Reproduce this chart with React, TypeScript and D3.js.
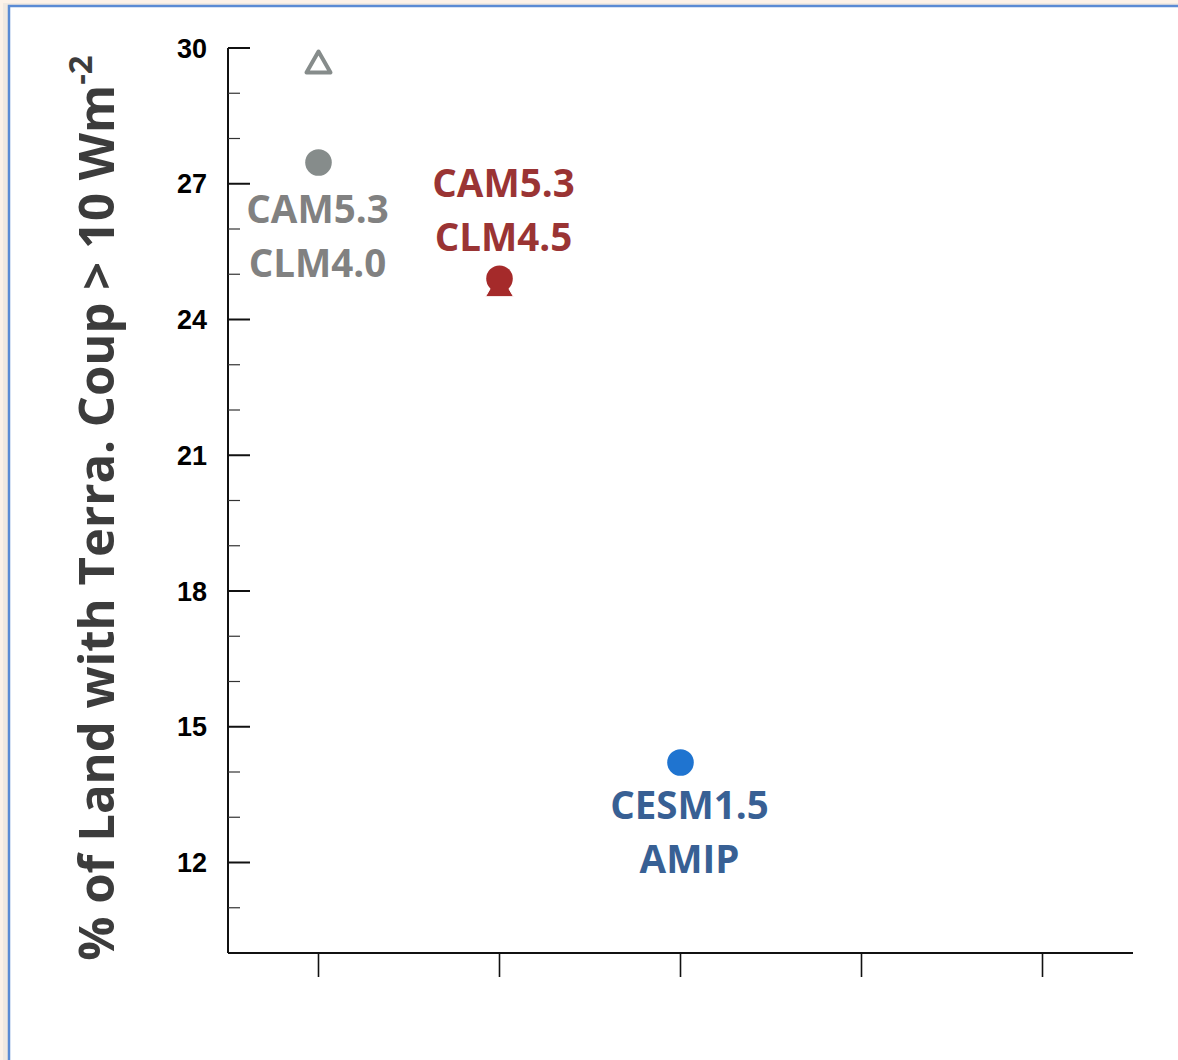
import React from 'react';
import * as d3 from 'd3';

// model runs, plotted at x = 1, 2, 3
const models = ['CAM5.3 CLM4.0', 'CAM5.3 CLM4.5', 'CESM1.5 AMIP'];
const modelX = [1, 2, 3];
const circleValues = [27.47, 24.9, 14.21];
const triangleValues = [29.69, 24.77, null];
const modelColors = ['#868c8b', '#a52a2a', '#1f74d0'];
const labelColors = ['#818181', '#9a3434', '#386094'];
const labelLines = [['CAM5.3', 'CLM4.0'], ['CAM5.3', 'CLM4.5'], ['CESM1.5', 'AMIP']];

const yMajorTicks = [12, 15, 18, 21, 24, 27, 30];
const yMinorTicks = [11, 13, 14, 16, 17, 19, 20, 22, 23, 25, 26, 28, 29];
const xTicks = [1, 2, 3, 4, 5];

const W = 1178;
const H = 1060;
const margin = { top: 48, right: 45, bottom: 107, left: 228 };

export default function App() {
  const x = d3.scaleLinear().domain([0.5, 5.5]).range([margin.left, W - margin.right]);
  const y = d3.scaleLinear().domain([10, 30]).range([H - margin.bottom, margin.top]);
  const x0 = margin.left;
  const x1 = W - margin.right;
  const yBase = H - margin.bottom;

  // label placement relative to each marker (dx, dy of first line baseline)
  const labelOffset = [
    { dx: -1, dy: 61 },
    { dx: 4, dy: -82 },
    { dx: 9, dy: 57 }
  ];
  const lineGap = 54;

  const tri = (w: number, h: number) => `M0,${-h / 2}L${w / 2},${h / 2}L${-w / 2},${h / 2}Z`;

  return (
    <svg width={W} height={H} style={{ position: 'absolute', left: 0, top: 0 }}>
      <rect x={0} y={0} width={W} height={H} fill="#fdf2e8" />
      <rect x={3} y={3} width={W} height={H} fill="#e9e3dc" opacity={0.6} />
      <rect x={9} y={6} width={W} height={H} fill="#ffffff" stroke="#5b8bd4" strokeWidth={2.5} />

      {/* y axis */}
      <line x1={x0} x2={x0} y1={y(30)} y2={yBase} stroke="#111" strokeWidth={2} />
      {yMajorTicks.map(t => (
        <g key={'M' + t}>
          <line x1={x0} x2={x0 + 22} y1={y(t)} y2={y(t)} stroke="#111" strokeWidth={2} />
          <text x={x0 - 21} y={y(t)} dy="0.36em" textAnchor="end"
            fontFamily="Liberation Sans, Arial, sans-serif" fontWeight="bold" fontSize={27} fill="#000">
            {t}
          </text>
        </g>
      ))}
      {yMinorTicks.map(t => (
        <line key={'m' + t} x1={x0} x2={x0 + 12} y1={y(t)} y2={y(t)} stroke="#333" strokeWidth={1.2} />
      ))}

      {/* x axis */}
      <line x1={x0} x2={x1} y1={yBase} y2={yBase} stroke="#111" strokeWidth={2} />
      {xTicks.map(t => (
        <line key={'x' + t} x1={x(t)} x2={x(t)} y1={yBase} y2={yBase + 24} stroke="#111" strokeWidth={1.6} />
      ))}

      {/* y title */}
      <text transform={`translate(114, ${508}) rotate(-90)`} textAnchor="middle"
        fontFamily="Open Sans, sans-serif" fontWeight="bold" fontSize={49} fill="#3c3c3c">
        % of Land with Terra. Coup &gt; 10 Wm
        <tspan fontSize={33} dy={-22}>-2</tspan>
      </text>

      {/* markers */}
      {models.map((m, i) => {
        const tv = triangleValues[i];
        return (
          <g key={m}>
            {tv !== null && i === 0 && (
              <path d={tri(24, 21)} transform={`translate(${x(modelX[i])},${y(tv)})`}
                fill="none" stroke={modelColors[i]} strokeWidth={4} strokeLinejoin="round" />
            )}
            {tv !== null && i !== 0 && (
              <path d={tri(28, 24)} transform={`translate(${x(modelX[i])},${y(tv)})`}
                fill={modelColors[i]} stroke="#ffffff" strokeWidth={1} />
            )}
            <circle cx={x(modelX[i])} cy={y(circleValues[i])} r={13.3} fill={modelColors[i]} />
          </g>
        );
      })}

      {/* labels */}
      {models.map((m, i) => (
        <text key={'l' + m} textAnchor="middle" fontFamily="Open Sans, sans-serif" fontWeight="bold"
          fontSize={38.5} fill={labelColors[i]}>
          {labelLines[i].map((s, j) => (
            <tspan key={s} x={x(modelX[i]) + labelOffset[i].dx}
              y={y(circleValues[i]) + labelOffset[i].dy + j * lineGap}>
              {s}
            </tspan>
          ))}
        </text>
      ))}
    </svg>
  );
}
